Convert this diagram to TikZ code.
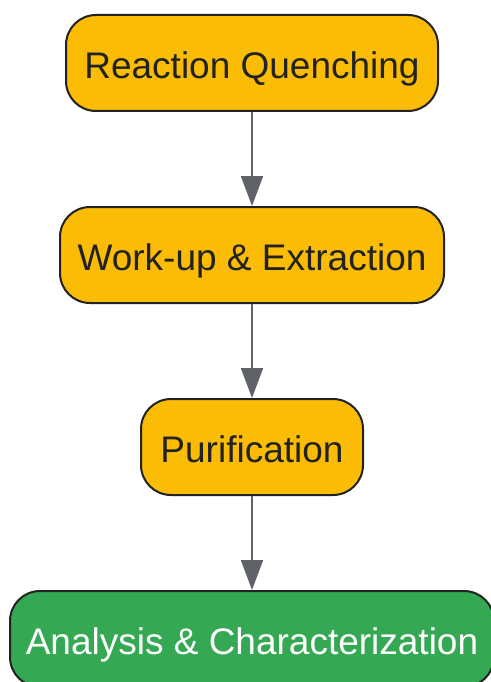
\documentclass[tikz,border=0pt]{standalone}
\usepackage{fontspec}
\setmainfont{Liberation Sans}
\usetikzlibrary{arrows.meta}
\definecolor{stepyellow}{HTML}{FBBC05}
\definecolor{stepgreen}{HTML}{34A853}
\definecolor{edgegray}{HTML}{5F6368}
\definecolor{inkdark}{HTML}{222222}
\begin{document}
\begin{tikzpicture}[x=1pt,y=1pt,
  stepbox/.style={draw=inkdark, line width=2pt, rounded corners=30pt,
    minimum height=96pt, inner sep=0pt, text height=34pt, text depth=3.5pt,
    font=\fontsize{37}{44}\selectfont},
  yellowbox/.style={stepbox, fill=stepyellow, text=inkdark},
  greenbox/.style={stepbox, fill=stepgreen, text=white},
  flow/.style={draw=edgegray, line width=2pt, -{Triangle[width=22pt,length=30pt]}}]
\useasboundingbox (0,0) rectangle (490,-682);
\node[yellowbox, minimum width=372pt] (quench) at (252,-63) {Reaction Quenching};
\node[yellowbox, minimum width=384pt] (workup) at (252,-255) {Work-up \& Extraction};
\node[yellowbox, minimum width=222pt] (purif) at (252,-447) {Purification};
\node[greenbox, minimum width=484pt] (analysis) at (252,-639) {Analysis \& Characterization};
\draw[flow] (quench) -- (workup);
\draw[flow] (workup) -- (purif);
\draw[flow] (purif) -- (analysis);
\end{tikzpicture}
\end{document}
